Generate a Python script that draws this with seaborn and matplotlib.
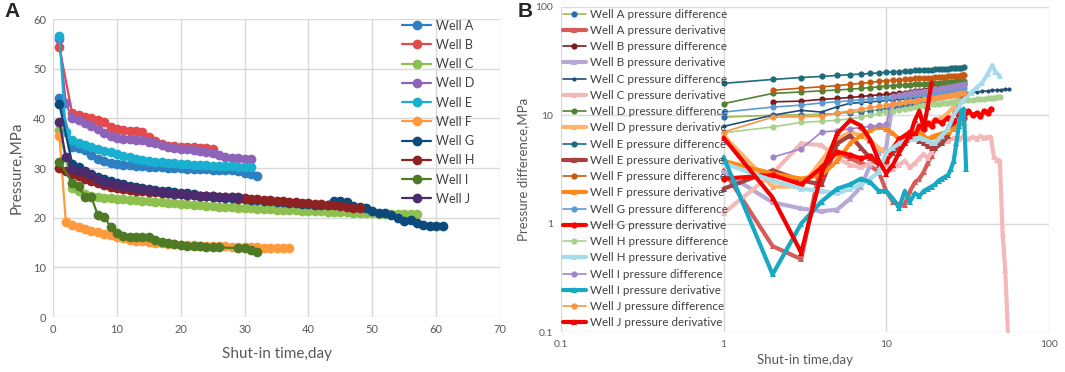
import matplotlib
matplotlib.use("Agg")
import numpy as np
import pandas as pd
import matplotlib.pyplot as plt
import seaborn as sns

# ~~~~~~~~~~~~~~~~~~~~~~~~~~~~~~~~~~~~~~~~~~~~~
# panel A : shut-in pressure (MPa) vs shut-in time (day)
# ~~~~~~~~~~~~~~~~~~~~~~~~~~~~~~~~~~~~~~~~~~~~~

wells = ["Well A", "Well B", "Well C", "Well D", "Well E",
         "Well F", "Well G", "Well H", "Well I", "Well J"]
well_colors = ["#2E7EC2", "#E24A4C", "#8DC04E", "#8E63B8", "#19AFD0",
               "#FF9A3C", "#0D4A7C", "#8E2222", "#4E7A26", "#4B2A6E"]

day_a = [1] + list(range(3, 33))
p_a = [44.2, 34.3, 34.0, 33.6, 32.6, 31.8, 31.4, 31.1, 30.9, 30.7, 30.6,
       30.5, 30.4, 30.3, 30.2, 30.2, 30.1, 30.0, 30.0, 29.9, 29.9,
       29.8, 29.8, 29.7, 29.7, 29.6, 29.6, 29.4, 29.1, 28.8, 28.3]

day_b = [1] + list(range(3, 26))
p_b = [54.3, 41.0, 40.7, 40.3, 40.0, 39.6, 39.2, 38.2, 37.9, 37.7, 37.5,
       37.4, 37.3, 36.2, 35.4, 34.8, 34.5, 34.4, 34.3, 34.2, 34.2, 34.1,
       34.0, 33.9]

day_c = [1] + list(range(3, 58))
p_c = [37.6, 26.0, 25.3, 24.8, 24.4, 24.2, 24.0, 23.9, 23.8, 23.7, 23.6,
       23.5, 23.4, 23.3, 23.2, 23.1, 23.0, 22.9, 22.8, 22.7, 22.6,
       22.5, 22.4, 22.3, 22.2, 22.1, 22.1, 22.0, 21.9, 21.9, 21.8,
       21.7, 21.7, 21.6, 21.6, 21.5, 21.5, 21.4, 21.4, 21.3, 21.3,
       21.2, 21.2, 21.1, 21.1, 21.0, 21.0, 20.9, 20.9, 20.8, 20.8,
       20.8, 20.8, 20.8, 20.8, 20.8]

day_d = list(range(1, 32))
p_d = [56.0, 43.0, 40.0, 39.6, 39.0, 38.4, 37.8, 37.1, 36.4, 36.1, 35.9,
       35.8, 35.7, 35.6, 35.3, 35.0, 34.6, 34.3, 34.1, 33.9, 33.8,
       33.6, 33.4, 33.3, 33.0, 32.6, 32.3, 32.1, 32.0, 31.9, 31.9]

day_e = list(range(1, 32))
p_e = [56.5, 37.2, 35.6, 35.0, 34.6, 34.2, 33.9, 33.5, 33.2, 32.9, 32.5,
       32.2, 31.9, 31.7, 31.5, 31.3, 31.2, 31.1, 31.0, 30.9, 30.8,
       30.7, 30.7, 30.6, 30.5, 30.5, 30.4, 30.4, 30.3, 30.3, 30.2]

day_f = list(range(1, 38))
p_f = [36.4, 19.2, 18.6, 18.1, 17.7, 17.4, 17.1, 16.8, 16.5, 16.2, 15.9,
       15.6, 15.4, 15.3, 15.1, 15.0, 14.9, 14.8, 14.7, 14.6, 14.5,
       14.5, 14.4, 14.3, 14.3, 14.2, 14.2, 14.1, 14.1, 14.0, 14.0,
       14.0, 13.9, 13.9, 13.8, 13.8, 13.8]

day_g = [1] + list(range(3, 62))
p_g = [42.8, 30.9, 30.2, 29.5, 28.8, 28.2, 27.7, 27.3, 27.0, 26.7, 26.4,
       26.2, 26.0, 25.8, 25.6, 25.4, 25.3, 25.1, 25.0, 24.9, 24.8,
       24.4, 24.3, 24.2, 24.1, 24.0, 23.9, 23.8, 23.7, 23.6, 23.5,
       23.4, 23.3, 23.2, 23.1, 23.0, 22.9, 22.8, 22.7, 22.6, 22.5,
       22.5, 23.3, 23.4, 23.2, 22.4, 22.2, 21.9, 21.4, 20.9, 20.9,
       20.5, 19.9, 19.4, 19.5, 19.0, 18.5, 18.4, 18.4, 18.4]

day_h = list(range(1, 49))
p_h = [30.0, 29.4, 28.8, 28.3, 27.8, 27.3, 26.9, 26.5, 26.2, 26.0, 25.8,
       25.6, 25.4, 25.3, 25.2, 25.1, 25.0, 24.9, 24.8, 24.7, 24.6,
       24.5, 24.4, 24.4, 24.3, 24.2, 24.2, 24.1, 24.0, 23.9, 23.8,
       23.7, 23.6, 23.5, 23.4, 23.3, 23.2, 23.1, 23.0, 22.9, 22.8,
       22.7, 22.6, 22.5, 22.3, 22.1, 22.0, 21.9]

day_i = [1] + list(range(3, 27)) + [29, 30, 31, 32]
p_i = [31.3, 27.0, 26.3, 24.2, 24.2, 20.5, 20.2, 18.2, 16.9, 16.4, 16.2,
       16.2, 16.1, 16.1, 15.6, 15.2, 14.9, 14.7, 14.5, 14.4, 14.3,
       14.2, 14.1, 14.0, 14.0, 13.9, 13.8, 13.5, 13.1]

day_j = list(range(1, 30))
p_j = [39.3, 32.2, 29.8, 29.5, 29.2, 28.6, 27.8, 27.2, 26.9, 26.6, 26.3,
       26.1, 25.9, 25.7, 25.5, 25.3, 25.1, 24.9, 24.8, 24.7, 24.6,
       24.5, 24.4, 24.3, 24.3, 24.2, 24.2, 24.1, 24.1]

# ~~~~~~~~~~~~~~~~~~~~~~~~~~~~~~~~~~~~~~~~~~~~~
# panel B : pressure difference / derivative (log-log)
# ~~~~~~~~~~~~~~~~~~~~~~~~~~~~~~~~~~~~~~~~~~~~~

d30 = list(range(1, 31))
deriv_days = list(range(1, 21)) + [22, 24, 26, 28, 30]

dp_a = [9.6, 10.0, 10.1, 10.2, 10.4, 10.6, 10.8, 11.0, 11.3, 11.6, 11.9,
        12.2, 12.5, 12.8, 13.1, 13.4, 13.7, 14.0, 14.3, 14.5, 14.7,
        14.9, 15.1, 15.3, 15.5, 15.7, 15.9, 16.1, 16.3, 16.5]
dd_a = [3.1, 0.62, 0.47, 3.8, 4.5, 4.0, 3.6, 3.4, 3.0, 2.0, 1.6, 1.5, 1.5,
        2.0, 2.4, 2.6, 3.0, 3.6, 4.2, 5.0, 6.0, 7.5, 10.0, 14.0, 24.0]

dp_b = [13.3, 13.5, 14.0, 14.3, 14.6, 14.9, 15.2, 15.4, 15.6, 15.8, 16.0,
        16.2, 16.4, 16.6, 16.8, 17.0, 17.2, 17.4, 17.6, 17.8, 18.0,
        18.2, 18.4, 18.6, 18.8, 19.0, 19.1, 19.2, 19.3]
dd_b = [3.0, 1.57, 1.38, 1.3, 1.35, 1.7, 2.2, 3.5, 4.5, 5.0, 14.0, 15.0,
        15.5, 15.8, 16.0, 16.2, 16.3, 16.5, 16.5, 16.5, 16.8, 17.0, 17.2,
        17.5, 19.0]

day_dp_c = d30 + [33, 36, 39, 42, 45, 48, 51, 54, 57]
dp_c = [7.9, 10.0, 11.1, 10.7, 12.0, 12.9, 13.1, 13.3, 13.5, 13.7, 13.9,
        14.0, 14.2, 14.3, 14.4, 14.6, 14.7, 14.8, 14.9, 15.0, 15.1,
        15.2, 15.3, 15.4, 15.5, 15.6, 15.7, 15.8, 15.9, 16.0, 16.2,
        16.4, 16.6, 16.8, 17.0, 17.1, 17.2, 17.3, 17.3]
day_dd_c = deriv_days + [32, 34, 36, 38, 40, 42, 44, 46, 48, 50, 52, 54, 56]
dd_c = [1.25, 2.9, 5.5, 5.3, 4.0, 3.5, 3.3, 3.6, 3.8, 3.5, 3.2, 3.5, 3.8,
        3.3, 3.6, 4.0, 4.4, 4.0, 4.6, 5.0, 5.5, 5.8, 6.2, 6.0, 6.4, 6.0,
        6.3, 6.1, 6.4, 6.2, 6.3, 6.3, 4.1, 3.9, 3.8, 0.8, 0.37, 0.1]

dp_d = [12.8, 15.9, 16.4, 16.8, 17.1, 17.4, 17.7, 18.0, 18.3, 18.6, 18.8,
        19.0, 19.1, 19.2, 19.3, 19.4, 19.5, 19.6, 19.7, 19.8, 19.9,
        20.0, 20.1, 20.2, 20.3, 20.4, 20.5, 20.6, 20.7, 20.8]
dd_d = [6.5, 2.2, 2.2, 3.8, 6.0, 7.0, 6.5, 5.8, 5.0, 4.5, 4.8, 5.5, 6.0,
        6.8, 7.2, 7.5, 7.8, 8.2, 8.6, 9.0, 9.5, 10.5, 12.0, 14.0, 16.0]

dp_e = [19.7, 21.4, 22.3, 22.8, 23.3, 23.7, 24.0, 24.3, 24.6, 24.9, 25.1,
        25.3, 25.5, 25.7, 25.9, 26.0, 26.2, 26.3, 26.4, 26.6, 26.7,
        26.8, 26.9, 27.0, 27.1, 27.2, 27.3, 27.4, 27.5, 27.6]
dd_e = [2.1, 3.1, 2.5, 2.3, 5.5, 6.5, 5.0, 4.0, 3.5, 3.8, 4.5, 5.0, 5.5,
        6.0, 6.2, 5.8, 5.5, 5.2, 5.0, 5.0, 5.5, 6.5, 8.5, 12.0, 17.0]

dp_f = [17.0, 17.8, 18.3, 18.8, 19.3, 19.7, 20.1, 20.5, 20.9, 21.1, 21.3,
        21.5, 21.7, 21.9, 22.0, 22.1, 22.2, 22.3, 22.4, 22.5, 22.6,
        22.7, 22.8, 22.9, 23.0, 23.1, 23.2, 23.3, 23.4]
dd_f = [3.8, 2.9, 2.6, 2.8, 3.8, 5.5, 6.5, 7.3, 7.8, 7.5, 6.8, 6.0, 5.8,
        6.2, 6.8, 7.0, 6.5, 6.0, 6.3, 6.5, 6.8, 7.0, 7.5, 8.0, 8.5]

dp_g = [10.7, 11.9, 12.4, 13.0, 13.3, 13.6, 13.9, 14.1, 14.3, 14.5, 14.7,
        14.9, 15.1, 15.3, 15.5, 15.6, 15.8, 15.9, 16.1, 16.2, 16.4,
        16.5, 16.7, 16.8, 17.0, 17.1, 17.3, 17.4, 17.6, 17.7]
day_dd_g = deriv_days + [32, 34, 36, 38, 40, 42, 44]
dd_g = [2.6, 2.8, 2.3, 3.3, 4.6, 4.3, 4.0, 4.2, 3.6, 3.8, 5.0, 6.0, 6.5,
        7.0, 6.5, 8.0, 7.5, 8.5, 8.0, 9.0, 8.5, 9.5, 8.8, 10.5, 9.5,
        11.0, 10.0, 10.5, 9.8, 11.0, 10.5, 11.5]

day_dp_h = d30 + [32, 34, 36, 38, 40, 42, 44, 46, 48, 50]
dp_h = [6.9, 7.8, 8.6, 8.8, 9.0, 9.3, 9.6, 10.0, 10.4, 10.8, 11.0, 11.3,
        11.5, 11.7, 11.9, 12.1, 12.3, 12.4, 12.6, 12.7, 12.8, 12.9, 13.0,
        13.1, 13.2, 13.3, 13.4, 13.5, 13.6, 13.7, 13.8, 13.9, 14.0, 14.1,
        14.2, 14.3, 14.4, 14.5, 14.6, 14.7]
day_dd_h = deriv_days + [33, 36, 39, 42, 45, 47, 50]
dd_h = [3.6, 2.5, 2.1, 2.0, 1.9, 2.1, 2.3, 2.6, 3.0, 4.5, 5.0, 5.5, 5.8,
        6.0, 6.1, 6.2, 6.0, 5.8, 5.6, 5.5, 6.5, 7.5, 10.0, 12.0, 14.0,
        16.0, 18.0, 20.0, 24.0, 29.0, 25.0, 23.0]

day_dp_i = list(range(2, 31))
dp_i = [4.1, 4.9, 7.0, 7.2, 7.5, 7.7, 7.9, 8.1, 8.3, 15.0, 15.4, 15.7,
        16.0, 16.3, 16.5, 16.7, 16.9, 17.1, 17.3, 17.5, 17.7, 17.9, 18.1,
        18.3, 18.5, 18.7, 18.9, 19.1, 19.3]
day_dd_i = list(range(1, 32))
dd_i = [4.1, 0.34, 1.0, 1.6, 2.1, 2.3, 2.6, 2.4, 2.0, 2.0, 1.7, 1.4, 2.0,
        1.6, 1.9, 1.8, 2.0, 2.1, 2.2, 2.3, 2.5, 2.6, 2.7, 2.8, 3.2, 3.8,
        5.5, 8.0, 11.0, 11.5, 3.2]

dp_j = [7.0, 9.6, 9.7, 9.8, 10.5, 11.0, 11.4, 11.8, 12.1, 12.4, 12.7,
        13.0, 13.2, 13.4, 13.6, 13.8, 14.0, 14.2, 14.4, 14.5, 14.7,
        14.8, 15.0, 15.1, 15.3, 15.4, 15.6, 15.7, 15.9, 16.0]
day_dd_j = list(range(1, 20))
dd_j = [6.2, 1.74, 0.54, 2.9, 6.8, 9.0, 8.0, 5.9, 3.8, 2.9, 3.5, 4.5, 5.5,
        6.5, 9.0, 11.0, 7.7, 12.0, 20.0]

# (label, days, values, line colour, marker, marker colour, kind)
series_b = [
    ("Well A pressure difference", d30, dp_a, "#9BBB59", "o", "#2B6CB0", "diff"),
    ("Well A pressure derivative", deriv_days, dd_a, "#D65B5B", "^", "#D65B5B", "deriv"),
    ("Well B pressure difference", list(range(2, 31)), dp_b, "#7A1C1C", "o", "#7A1C1C", "diff"),
    ("Well B pressure derivative", deriv_days, dd_b, "#B7A9D6", "^", "#B7A9D6", "deriv"),
    ("Well C pressure difference", day_dp_c, dp_c, "#1F4E79", "o", "#1F4E79", "small"),
    ("Well C pressure derivative", day_dd_c, dd_c, "#F4B8B8", "^", "#F4B8B8", "deriv"),
    ("Well D pressure difference", d30, dp_d, "#548235", "o", "#548235", "diff"),
    ("Well D pressure derivative", deriv_days, dd_d, "#FFB36B", "^", "#FFB36B", "deriv"),
    ("Well E pressure difference", d30, dp_e, "#1D6B7B", "o", "#1D6B7B", "diff"),
    ("Well E pressure derivative", deriv_days, dd_e, "#A8403F", "^", "#A8403F", "deriv"),
    ("Well F pressure difference", list(range(2, 31)), dp_f, "#C55A11", "o", "#C55A11", "diff"),
    ("Well F pressure derivative", deriv_days, dd_f, "#FF8A1A", "^", "#FF8A1A", "deriv"),
    ("Well G pressure difference", d30, dp_g, "#5B9BD5", "o", "#5B9BD5", "diff"),
    ("Well G pressure derivative", day_dd_g, dd_g, "#FF0000", "o", "#FF0000", "deriv"),
    ("Well H pressure difference", day_dp_h, dp_h, "#A9D18E", "o", "#A9D18E", "diff"),
    ("Well H pressure derivative", day_dd_h, dd_h, "#A6DCE9", "^", "#A6DCE9", "deriv"),
    ("Well I pressure difference", day_dp_i, dp_i, "#9E86C9", "o", "#9E86C9", "diff"),
    ("Well I pressure derivative", day_dd_i, dd_i, "#17A9C4", "^", "#17A9C4", "deriv"),
    ("Well J pressure difference", d30, dp_j, "#F79646", "o", "#F79646", "diff"),
    ("Well J pressure derivative", day_dd_j, dd_j, "#F20000", "^", "#F20000", "deriv"),
]

# ~~~~~~~~~~~~~~~~~~~~~~~~~~~~~~~~~~~~~~~~~~~~~

sns.set_style("whitegrid", {"grid.color": "#D9D9D9", "axes.edgecolor": "#D9D9D9"})
plt.rcParams["font.family"] = ["Lato", "DejaVu Sans"]

tick_col = "#595959"
fig = plt.figure(figsize=(10.65, 3.72), dpi=100)
ax1 = fig.add_axes([0.0498, 0.1478, 0.4197, 0.801])
ax2 = fig.add_axes([0.5268, 0.1075, 0.458, 0.874])

days_all = [day_a, day_b, day_c, day_d, day_e, day_f, day_g, day_h, day_i, day_j]
vals_all = [p_a, p_b, p_c, p_d, p_e, p_f, p_g, p_h, p_i, p_j]
for name, col, dd, pp in zip(wells, well_colors, days_all, vals_all):
    df = pd.DataFrame({"day": dd, "p": pp})
    sns.lineplot(data=df, x="day", y="p", ax=ax1, color=col, marker="o",
                 markersize=7, markeredgewidth=0, lw=1.6, label=name,
                 estimator=None, sort=False)

ax1.set_xlim(0, 70)
ax1.set_ylim(0, 60)
ax1.set_xticks(np.arange(0, 71, 10))
ax1.set_yticks(np.arange(0, 61, 10))
ax1.tick_params(length=0, labelsize=8, labelcolor=tick_col, pad=5)
ax1.set_xlabel("Shut-in time,day", fontsize=11, color=tick_col, labelpad=9)
ax1.set_ylabel("Pressure,MPa", fontsize=11, color=tick_col, labelpad=7)
for s in ax1.spines.values():
    s.set_visible(False)
ax1.grid(True, color="#D9D9D9", lw=1)
ax1.legend(loc="upper left", bbox_to_anchor=(0.77, 1.015), frameon=False,
           fontsize=9, labelspacing=0.58, handlelength=2.3, handletextpad=0.4,
           labelcolor="#404040", borderaxespad=0)

for lab, xx, yy, col, mk, mcol, kind in series_b:
    df = pd.DataFrame({"day": xx, "v": yy})
    if kind == "deriv":
        kw = dict(lw=3.0, markersize=4.5)
    elif kind == "small":
        kw = dict(lw=1.2, markersize=3)
    else:
        kw = dict(lw=1.2, markersize=4.5)
    sns.lineplot(data=df, x="day", y="v", ax=ax2, color=col, marker=mk,
                 markerfacecolor=mcol, markeredgewidth=0, label=lab,
                 estimator=None, sort=False, **kw)

ax2.set_xscale("log")
ax2.set_yscale("log")
ax2.set_xlim(0.1, 100)
ax2.set_ylim(0.1, 100)
ax2.minorticks_off()
ax2.set_xticks([0.1, 1, 10, 100], ["0.1", "1", "10", "100"])
ax2.set_yticks([0.1, 1, 10, 100], ["0.1", "1", "10", "100"])
ax2.tick_params(length=0, labelsize=7.5, labelcolor=tick_col, pad=6)
ax2.set_xlabel("Shut-in time,day", fontsize=9.5, color=tick_col, labelpad=3)
ax2.set_ylabel("Pressure difference,MPa", fontsize=9.5, color=tick_col, labelpad=4)
for s in ax2.spines.values():
    s.set_visible(False)
ax2.grid(True, which="major", color="#D9D9D9", lw=1)
ax2.legend(loc="upper left", bbox_to_anchor=(0.0, 1.0), frameon=False,
           fontsize=8.4, labelspacing=0.45, handlelength=2.0,
           handletextpad=0.3, labelcolor="#404040", borderaxespad=0,
           borderpad=0.15)

fig.text(0.004, 0.995, "A", fontsize=15, weight="bold", va="top", ha="left",
         family="Liberation Sans")
fig.text(0.486, 0.995, "B", fontsize=15, weight="bold", va="top", ha="left",
         family="Liberation Sans")

fig.savefig("out.png", dpi=100)
